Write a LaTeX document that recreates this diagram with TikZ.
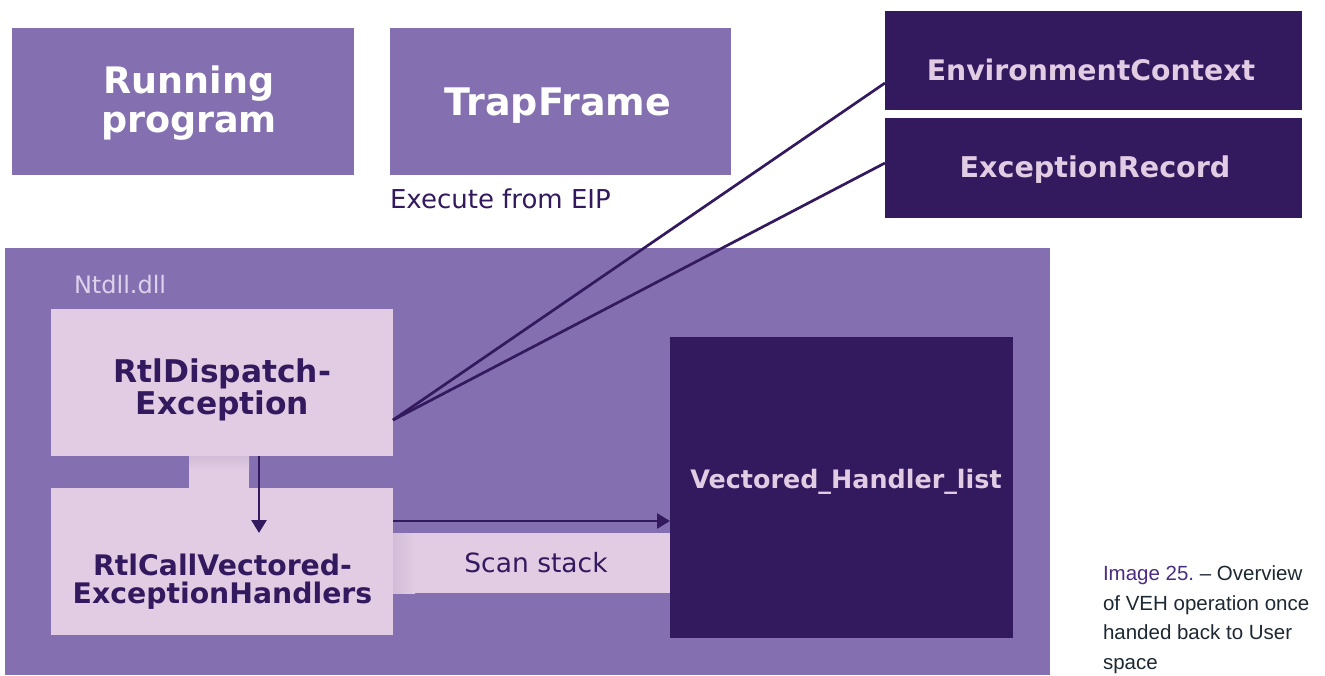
\documentclass[tikz,border=0pt]{standalone}
\usepackage{fontspec}
\setmainfont{DejaVu Sans}
\newfontfamily\capfont{Liberation Sans}
\usetikzlibrary{arrows.meta}

\definecolor{vehmid}{HTML}{8470B0}
\definecolor{vehdark}{HTML}{33195E}
\definecolor{vehlight}{HTML}{E1CCE3}
\definecolor{vehshade}{HTML}{D2BCD8}
\definecolor{vehpale}{HTML}{DDD2EC}
\definecolor{vehink}{HTML}{1E2833}
\definecolor{vehcap}{HTML}{4B2D80}

\begin{document}
\begin{tikzpicture}[x=1pt,y=-1pt,
  box/.style={rectangle, inner sep=0pt, outer sep=0pt, anchor=north west},
  midbox/.style={box, fill=vehmid},
  darkbox/.style={box, fill=vehdark},
  lightbox/.style={box, fill=vehlight},
  lbl/.style={inner sep=0pt, outer sep=0pt, align=center},
  wire/.style={draw=vehdark, line width=2.7pt},
  arr/.style={wire, -{Triangle[length=13pt,width=15pt]}},
]
\useasboundingbox (0,0) rectangle (1325,675);

% top row
\node[midbox, minimum width=342pt, minimum height=147pt] (run) at (12,28) {};
\node[midbox, minimum width=341pt, minimum height=147pt] (trap) at (390,28) {};
\node[darkbox, minimum width=417pt, minimum height=99pt] (env) at (885,11) {};
\node[darkbox, minimum width=417pt, minimum height=100pt] (exc) at (885,118) {};

% Ntdll.dll region
\node[midbox, minimum width=1045pt, minimum height=427pt] (ntdll) at (5,248) {};
\node[lightbox, minimum width=60pt, minimum height=32pt] (link) at (189,456) {};
\node[lightbox, minimum width=277pt, minimum height=60pt] (scan) at (393,533) {};
\shade[top color=vehshade, bottom color=vehlight] (link.north west) rectangle ([yshift=-14pt]link.north east);
\shade[left color=vehshade, right color=vehlight] (scan.north west) rectangle ([xshift=22pt]scan.south west);
\node[lightbox, minimum width=342pt, minimum height=147pt] (disp) at (51,309) {};
\node[lightbox, minimum width=342pt, minimum height=147pt] (call) at (51,488) {};
\node[darkbox, minimum width=343pt, minimum height=301pt] (vec) at (670,337) {};

% labels
\node[lbl, text=white, font=\bfseries\fontsize{36.5}{39}\selectfont] (runtxt) at (189,103.5) {Running\\program};
\node[lbl, anchor=base, text=white, font=\bfseries\fontsize{38}{40}\selectfont] (traptxt) at (558,115) {TrapFrame};
\node[lbl, anchor=base west, text=vehdark, font=\fontsize{26}{30}\selectfont] (eip) at (390,208) {Execute from EIP};
\node[lbl, anchor=base, text=vehlight, font=\bfseries\fontsize{28.3}{30}\selectfont] (envtxt) at (1091,80) {EnvironmentContext};
\node[lbl, anchor=base, text=vehlight, font=\bfseries\fontsize{28.6}{30}\selectfont] (exctxt) at (1095,177) {ExceptionRecord};
\node[lbl, anchor=base west, text=vehpale, font=\fontsize{24}{28}\selectfont] (ntdlltxt) at (74,293) {Ntdll.dll};
\node[lbl, text=vehdark, font=\bfseries\fontsize{31.3}{32}\selectfont] (disptxt) at (222.5,390.3) {RtlDispatch-\\Exception};
\node[lbl, text=vehdark, font=\bfseries\fontsize{28.3}{28}\selectfont] (calltxt) at (222.5,581.2) {RtlCallVectored-\\ExceptionHandlers};
\node[lbl, anchor=base, text=vehlight, font=\bfseries\fontsize{25.4}{28}\selectfont] (vectxt) at (846,488) {Vectored\_Handler\_list};
\node[lbl, anchor=base, text=vehdark, font=\fontsize{26.5}{30}\selectfont] (scantxt) at (536,572) {Scan stack};
\node[lbl, anchor=north west, align=left, text=vehink, font=\capfont\frenchspacing\fontsize{20.5}{29.5}\selectfont] (caption) at (1103,566)
  {\textcolor{vehcap}{Image 25.} – Overview\\of VEH operation once\\handed back to User\\space};

% connectors
\coordinate (dispout) at ([yshift=-37.5pt]disp.east);
\coordinate (envin) at ([yshift=-22.5pt]env.west);
\coordinate (excin) at ([yshift=5pt]exc.west);
\draw[wire] (dispout) -- (envin);
\draw[wire] (dispout) -- (excin);

\coordinate (downstart) at ([xshift=37pt]disp.south);
\coordinate (downend) at (259,533);
\draw[arr] (downstart) -- (downend);

\coordinate (scanin) at ([yshift=40.5pt]call.east);
\draw[arr] (scanin) -- (scanin -| vec.west);
\end{tikzpicture}
\end{document}
